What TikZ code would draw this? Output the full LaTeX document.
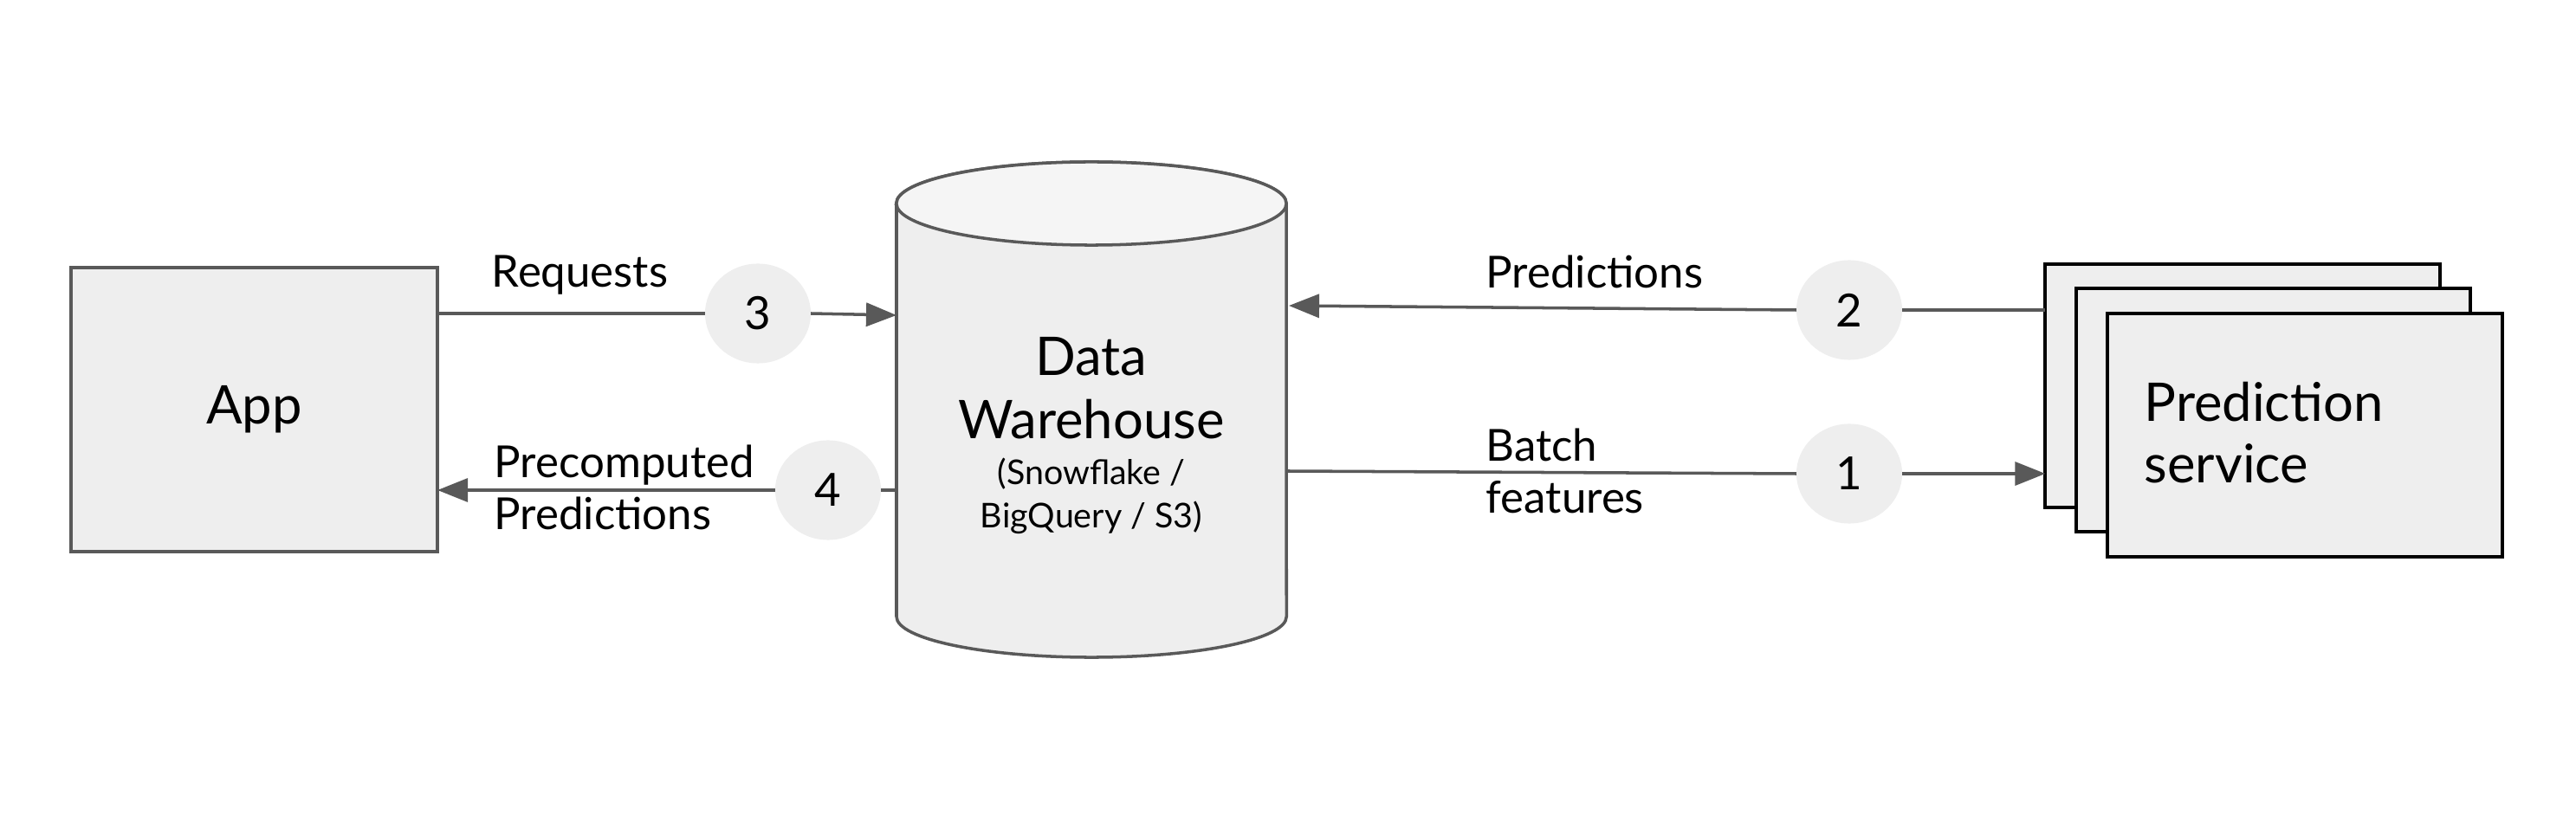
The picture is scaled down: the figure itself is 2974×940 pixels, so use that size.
\documentclass[tikz,border=0pt]{standalone}
\usepackage{fontspec}
\setmainfont{Lato}
\usetikzlibrary{arrows.meta,shapes.geometric}
\definecolor{lg}{HTML}{595959}
\definecolor{boxfill}{HTML}{EEEEEE}
\definecolor{topfill}{HTML}{F5F5F5}
\definecolor{circfill}{HTML}{EEEEEE}
\begin{document}
\begin{tikzpicture}[x=0.01cm,y=0.01cm,
  box/.style={draw=lg, line width=1pt, fill=boxfill, inner sep=0pt, outer sep=0pt},
  psbox/.style={draw=black, line width=1.1pt, fill=boxfill, inner sep=0pt, outer sep=0pt, minimum width=4.55cm, minimum height=2.81cm},
  num/.style={ellipse, fill=circfill, minimum width=1.22cm, minimum height=1.15cm, inner sep=0pt, outer sep=0pt, font=\fontsize{15}{17}\selectfont},
  conn/.style={draw=lg, line width=1pt},
  arr/.style={conn, -{Triangle[length=0.35cm,width=0.27cm]}},
  lbl/.style={anchor=base west, inner sep=0pt, font=\fontsize{14.5}{17}\selectfont},
  big/.style={anchor=base, inner sep=0pt, font=\fontsize{17.5}{20}\selectfont},
  small/.style={anchor=base, inner sep=0pt, font=\fontsize{11.2}{13}\selectfont}]
\useasboundingbox[fill=white] (0,0) rectangle (2974,-940);

% App
\node[box, minimum width=4.23cm, minimum height=3.28cm, font=\fontsize{17.5}{20}\selectfont] (app) at (293.5,-473) {App};

% Data warehouse cylinder
\filldraw[draw=lg, line width=1pt, fill=boxfill]
  (1035,-235) -- (1035,-712) arc[start angle=180, end angle=360, x radius=2.25cm, y radius=0.47cm]
  -- (1485,-235) arc[start angle=0, end angle=180, x radius=2.25cm, y radius=0.48cm] -- cycle;
\filldraw[draw=lg, line width=1pt, fill=topfill] (1260,-235) ellipse[x radius=2.25cm, y radius=0.48cm];
\node[inner sep=0pt, minimum width=4.5cm, minimum height=4.77cm] (dw) at (1260,-473.5) {};
\node[big] (dwa) at (1260,-434) {Data};
\node[big] (dwb) at (1260,-507) {Warehouse};
\node[small] (dwc) at (1260,-560) {(Snowflake /};
\node[small] (dwd) at (1260,-610) {BigQuery / S3)};
\coordinate (dwL3) at (1035,-364);
\coordinate (dwL4) at (1033,-566);
\coordinate (dwR2) at (1488,-353);
\coordinate (dwR1) at (1487,-544);

% Prediction service stack
\node[psbox] (ps1) at (2589,-445.5) {};
\node[psbox] (ps2) at (2624.5,-473.5) {};
\node[psbox] (ps3) at (2661,-502.5) {};
\node[anchor=base west, inner sep=0pt, font=\fontsize{17.5}{20}\selectfont] (psa) at (2475,-487) {Prediction};
\node[anchor=base west, inner sep=0pt, font=\fontsize{17.5}{20}\selectfont] (psb) at (2475,-558) {service};

% Numbered circles
\node[num] (c3) at (875,-362) {3};
\node[num] (c4) at (956,-566) {4};
\node[num] (c2) at (2135,-358) {2};
\node[num] (c1) at (2135,-547) {1};

% Connectors
\draw[conn] (app.east |- c3.west) -- (c3.west);
\draw[arr] (c3.east) -- (dwL3);
\draw[arr] (c4.west) -- (app.east |- c4.west);
\draw[conn] (c4.east) -- (dwL4);
\draw[arr] (c2.west) -- (dwR2);
\draw[conn] (c2.east) -- (ps1.west |- c2.east);
\draw[conn] (dwR1) -- (c1.west);
\draw[arr] (c1.east) -- (ps1.west |- c1.east);

% Labels
\node[lbl] (lreq) at (567,-332) {Requests};
\node[lbl] (lpre1) at (570,-552) {Precomputed};
\node[lbl] (lpre2) at (570,-612) {Predictions};
\node[lbl] (lpred) at (1715,-333) {Predictions};
\node[lbl] (lbat1) at (1715,-533) {Batch};
\node[lbl] (lbat2) at (1715,-593) {features};
\end{tikzpicture}
\end{document}
